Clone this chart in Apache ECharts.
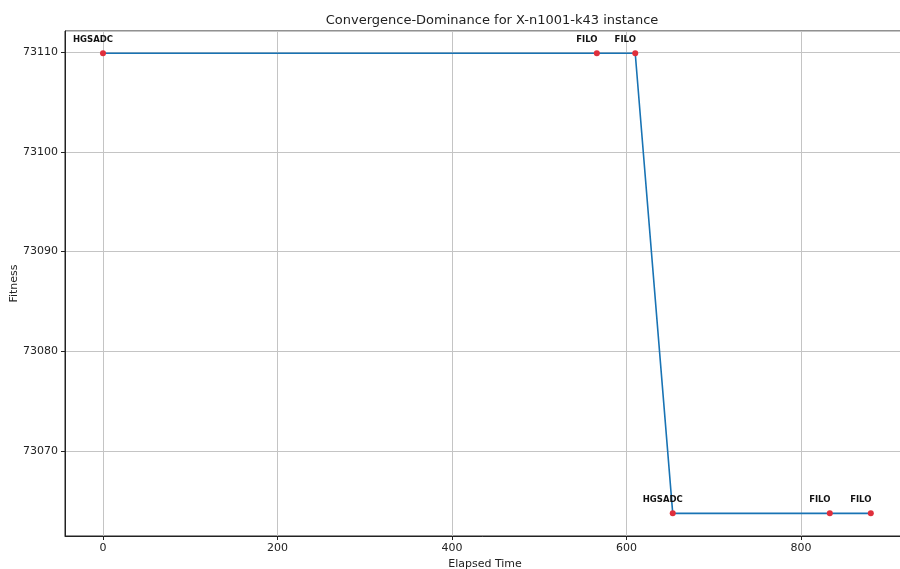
<!DOCTYPE html>
<html>
<head>
<meta charset="utf-8">
<script src="https://cdn.jsdelivr.net/npm/echarts@6/dist/echarts.min.js"></script>
<style>html,body{margin:0;padding:0;background:#fff}#c{width:900px;height:569px}</style>
</head>
<body>
<div id="c"></div>
<script>
const elapsedTime = [0, 566, 610, 653, 833, 880];
const fitness = [73109.87, 73109.87, 73109.87, 73063.75, 73063.75, 73063.75];
const algorithms = ['HGSADC', 'FILO', 'FILO', 'HGSADC', 'FILO', 'FILO'];

const chart = echarts.init(document.getElementById('c'), null, {renderer: 'canvas'});
const font = 'DejaVu Sans';
const data = elapsedTime.map((t, i) => ({value: [t, fitness[i]], name: algorithms[i]}));

chart.setOption({
  animation: false,
  backgroundColor: '#fff',
  title: {
    text: 'Convergence-Dominance for X-n1001-k43 instance',
    left: 487, top: 9, textAlign: 'center',
    textStyle: {fontFamily: font, fontSize: 13, fontWeight: 'normal', color: '#222'}
  },
  grid: {left: 65, right: -5, top: 31, bottom: 33, show: true, borderColor: '#222', borderWidth: 1,
         backgroundColor: 'transparent', containLabel: false, outerBoundsMode: 'none'},
  xAxis: {
    type: 'value', min: -43.55, max: 919.2, splitNumber: 5,
    name: 'Elapsed Time', nameLocation: 'middle', nameGap: 23, nameMoveOverlap: false,
    nameTextStyle: {fontFamily: font, fontSize: 11, color: '#222'},
    axisLine: {show: true, onZero: false, lineStyle: {color: '#222', width: 1}},
    axisTick: {show: true, length: 4, lineStyle: {color: '#222'}},
    axisLabel: {fontFamily: font, fontSize: 11, color: '#222', margin: 7, showMinLabel: false, showMaxLabel: false,
                formatter: v => String(v)},
    splitLine: {show: true, lineStyle: {color: '#c4c4c4', width: 1}}
  },
  yAxis: {
    type: 'value', min: 73061.48, max: 73112.105, splitNumber: 5,
    name: 'Fitness', nameLocation: 'middle', nameGap: 45, nameMoveOverlap: false,
    nameTextStyle: {fontFamily: font, fontSize: 11, color: '#222'},
    axisLine: {show: true, onZero: false, lineStyle: {color: '#222', width: 1}},
    axisTick: {show: true, length: 4, lineStyle: {color: '#222'}},
    axisLabel: {fontFamily: font, fontSize: 11, color: '#222', margin: 7, showMinLabel: false, showMaxLabel: false,
                formatter: v => String(v)},
    splitLine: {show: true, lineStyle: {color: '#c4c4c4', width: 1}}
  },
  series: [{
    type: 'line',
    data: data,
    symbol: 'circle', symbolSize: 6,
    showAllSymbol: true,
    lineStyle: {color: '#1873b4', width: 1.6},
    itemStyle: {color: '#df2f3c', borderWidth: 0},
    label: {
      show: true, position: 'top', distance: 6, offset: [-10, 0],
      formatter: p => p.name,
      fontFamily: font, fontSize: 8.5, fontWeight: 'bold', color: '#111'
    },
    z: 3
  }]
});
</script>
</body>
</html>
